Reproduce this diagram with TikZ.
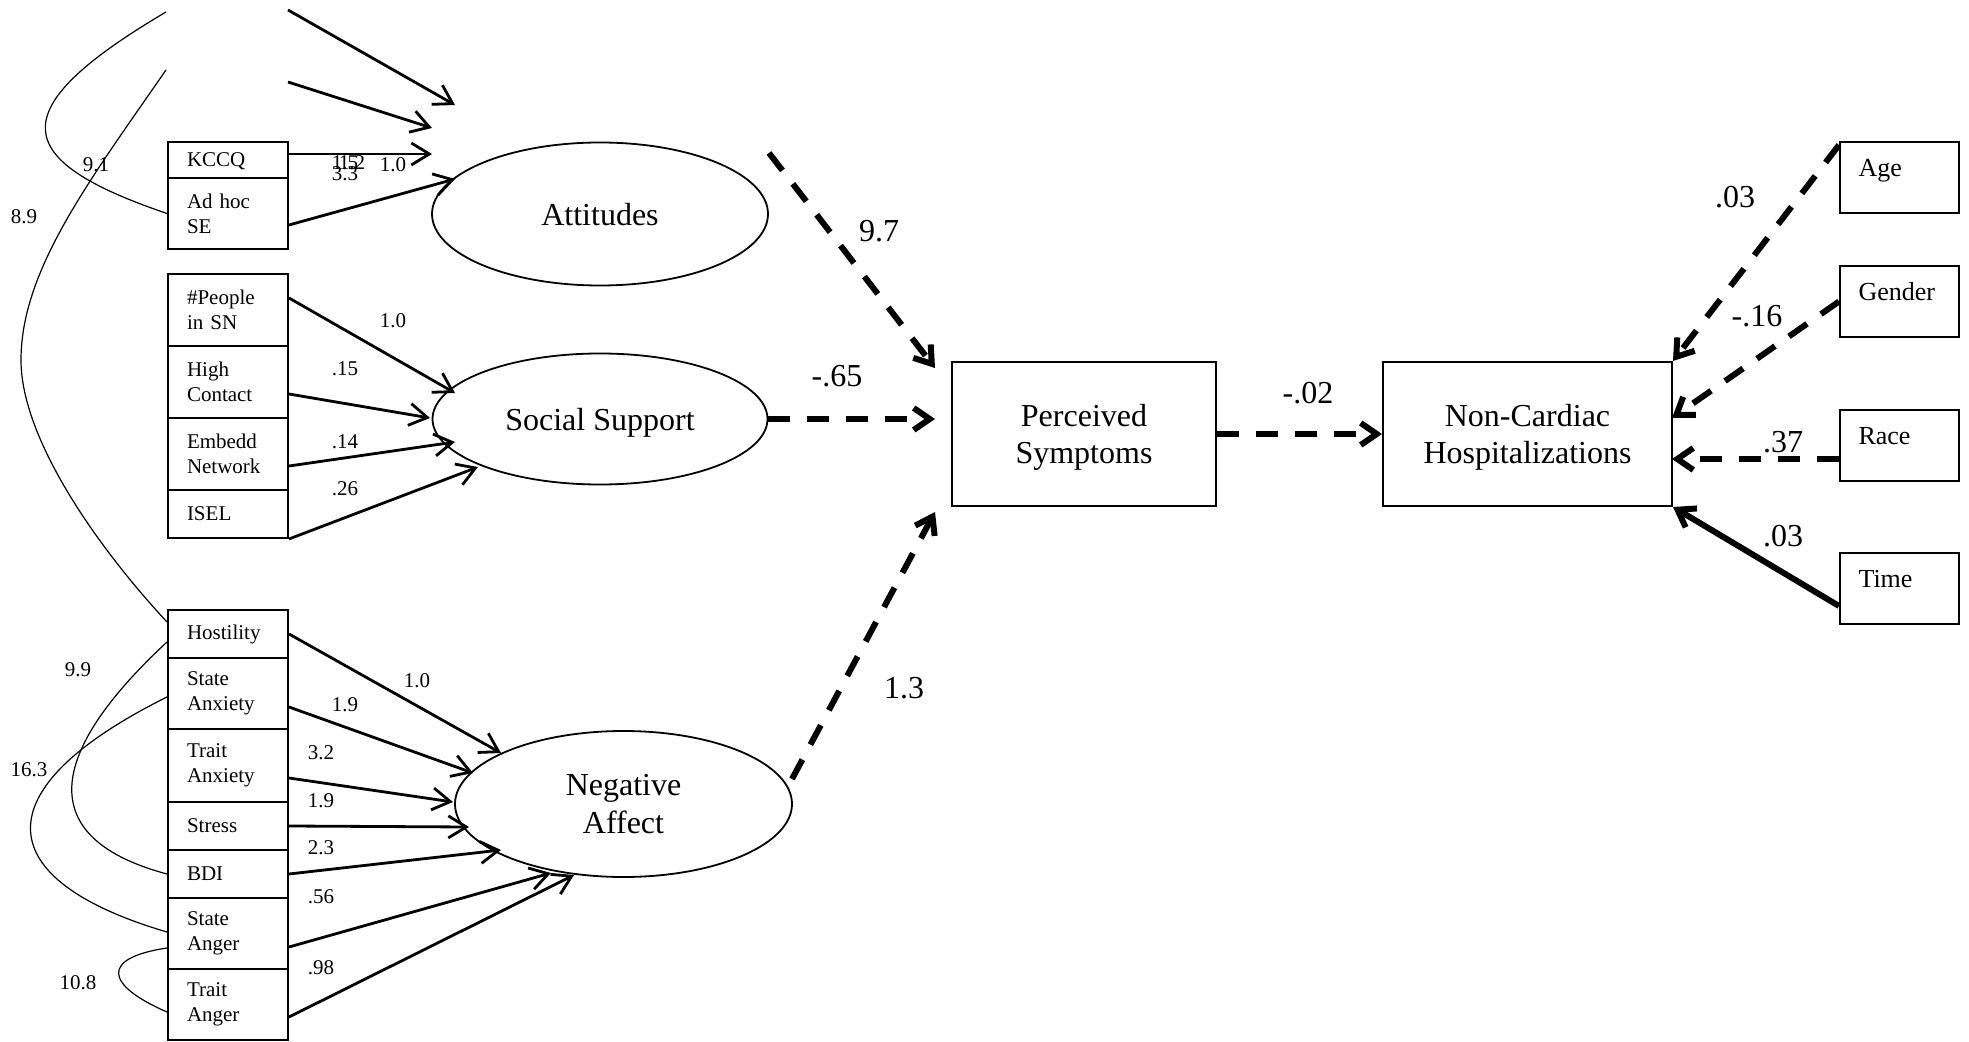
\documentclass[tikz,border=0pt]{standalone}
\usepackage{fontspec}
\setmainfont{Liberation Serif}
\usetikzlibrary{arrows.meta,shapes.geometric}
\begin{document}
\begin{tikzpicture}[x=0.5pt,y=-0.5pt,
  ind/.style={draw, line width=1pt, text width=41pt, inner xsep=9.5pt, inner ysep=0pt,
    align=left, font=\fontsize{10.5}{12.5}\selectfont},
  lat/.style={draw, ellipse, line width=0.9pt, inner sep=0pt, align=center, text depth=0pt,
    font=\fontsize{16}{19}\selectfont},
  obs/.style={draw, line width=1pt, inner sep=0pt, align=center, text depth=0pt,
    font=\fontsize{16}{18.5}\selectfont},
  cov/.style={draw, line width=1pt, inner xsep=9.25pt, inner ysep=0pt, text width=41pt,
    align=left, text height=17.5pt, text depth=18pt, font=\fontsize{13}{15}\selectfont},
  load/.style={line width=1.4pt, -{Straight Barb[length=9pt,width=11pt]}},
  dpath/.style={line width=3pt, dash pattern=on 11pt off 8.5pt,
    -{Straight Barb[length=8pt,width=11pt]}},
  spath/.style={line width=3pt, -{Straight Barb[length=8pt,width=11pt]}},
  corr/.style={line width=0.6pt},
  sm/.style={font=\fontsize{10.5}{12}\selectfont, inner sep=0pt},
  big/.style={font=\fontsize{16}{18}\selectfont, inner sep=0pt},
]
\useasboundingbox (0,0) rectangle (1969,1042);

% ---------- indicator boxes ----------
\node[ind, minimum height=18pt, text depth=0pt] (kccq)  at (228,160)   {KCCQ};
\node[ind, minimum height=35.5pt] (adhoc) at (228,213.5) {Ad hoc\\SE};

\node[ind, minimum height=36pt] (people) at (228,310) {\#People\\in SN};
\node[ind, minimum height=36pt] (high)   at (228,382) {High\\Contact};
\node[ind, minimum height=36pt] (embed)  at (228,454) {Embedd\\Network};
\node[ind, minimum height=24pt] (isel)   at (228,514) {ISEL};

\node[ind, minimum height=24pt]   (host) at (228,634)    {Hostility};
\node[ind, minimum height=35.5pt] (sanx) at (228,693.5)  {State\\Anxiety};
\node[ind, minimum height=36.5pt] (tanx) at (228,765.5)  {Trait\\Anxiety};
\node[ind, minimum height=24pt]   (stress) at (228,826)  {Stress};
\node[ind, minimum height=24pt]   (bdi)  at (228,874)    {BDI};
\node[ind, minimum height=35.5pt] (sang) at (228,933.5)  {State\\Anger};
\node[ind, minimum height=35.5pt] (tang) at (228,1004.5) {Trait\\Anger};

% ---------- latent variables ----------
\node[lat, minimum width=168pt, minimum height=71.5pt] (att) at (600,214) {Attitudes};
\node[lat, minimum width=167.5pt, minimum height=65.5pt] (soc) at (600,419) {Social Support};
\node[lat, minimum width=168.5pt, minimum height=73pt] (neg) at (623.5,804) {Negative\\Affect};

% ---------- observed outcomes ----------
\node[obs, minimum width=132pt, minimum height=72pt] (ps) at (1084,434) {Perceived\\Symptoms};
\node[obs, minimum width=144.5pt, minimum height=72pt] (nc) at (1527.5,434) {Non-Cardiac\\Hospitalizations};

% ---------- covariates ----------
\node[cov] (age)    at (1899.5,177.5) {Age};
\node[cov] (gender) at (1899.5,301.5) {Gender};
\node[cov] (race)   at (1899.5,445.5) {Race};
\node[cov] (time)   at (1899.5,588.5) {Time};

% ---------- free ends ----------
\coordinate (topA) at (288,10);
\coordinate (topB) at (288,82);
\coordinate (topAtip) at (455,105);
\coordinate (topBtip) at (432,128);
\coordinate (kccqtip) at (432,154);
\coordinate (adhoctip) at (455,179);
\coordinate (peopletip) at (455,393);
\coordinate (hightip) at (430,418);
\coordinate (embedtip) at (455,442);
\coordinate (iseltip) at (478,467);
\coordinate (hosttip) at (501,753);
\coordinate (sanxtip) at (473,773);
\coordinate (tanxtip) at (453,802);
\coordinate (stresstip) at (469,827);
\coordinate (bditip) at (501,850);
\coordinate (sangtip) at (551,873);
\coordinate (tangtip) at (574,875);
\coordinate (attout) at (769,153);
\coordinate (attin) at (935,368);
\coordinate (socin) at (935,419);
\coordinate (negout) at (792,779);
\coordinate (negin) at (935,512);
\coordinate (genderin) at (1672,418);
\coordinate (racein) at (1672,459);
\coordinate (c91top) at (166,12);
\coordinate (c89top) at (166,70);
\coordinate (c89mid) at (21,360);

% ---------- loadings ----------
\draw[load] (topA) -- (topAtip);
\draw[load] (topB) -- (topBtip);
\draw[load] ([yshift=3pt]kccq.east) -- (kccqtip);
\draw[load] ([yshift=-5.75pt]adhoc.east) -- (adhoctip);

\draw[load] ([yshift=6pt]people.east) -- (peopletip);
\draw[load] ([yshift=-6pt]high.east) -- (hightip);
\draw[load] ([yshift=-6pt]embed.east) -- (embedtip);
\draw[load] (isel.south east) -- (iseltip);

\draw[load] (host.east) -- (hosttip);
\draw[load] ([yshift=-6.75pt]sanx.east) -- (sanxtip);
\draw[load] ([yshift=-6.25pt]tanx.east) -- (tanxtip);
\draw[load] (stress.east) -- (stresstip);
\draw[load] (bdi.east) -- (bditip);
\draw[load] ([yshift=-6.75pt]sang.east) -- (sangtip);
\draw[load] ([yshift=-6.25pt]tang.east) -- (tangtip);

% ---------- loading values ----------
\node[sm] (l1) at (393,165) {1.0};
\node[sm] (l2) at (345,163) {1.5};
\node[sm] (l3) at (352,163) {1.2};
\node[sm] (l4) at (345,174) {3.3};

\node[sm] (s1) at (393,321) {1.0};
\node[sm] (s2) at (345,369) {.15};
\node[sm] (s3) at (345,442) {.14};
\node[sm] (s4) at (345,489) {.26};

\node[sm] (n1) at (417,681) {1.0};
\node[sm] (n2) at (345,705) {1.9};
\node[sm] (n3) at (321,753) {3.2};
\node[sm] (n4) at (321,801) {1.9};
\node[sm] (n5) at (321,848) {2.3};
\node[sm] (n6) at (321,897) {.56};
\node[sm] (n7) at (321,968) {.98};

% ---------- error covariances ----------
\draw[corr] (c91top) .. controls (0,110) and (10,160) .. (adhoc.west);
\draw[corr] (c89top) .. controls (90,180) and (21,270) .. (c89mid)
            .. controls (21,440) and (100,550) .. ([yshift=6pt]host.west);
\draw[corr] ([yshift=-4pt]host.west) .. controls (40,760) and (40,840) .. (bdi.west);
\draw[corr] ([yshift=-1.75pt]sanx.west) .. controls (-20,790) and (-10,880) .. ([yshift=0.75pt]sang.west);
\draw[corr] ([yshift=-7.25pt]sang.west) .. controls (100,958) and (105,985) .. ([yshift=-3.75pt]tang.west);

\node[sm] (c1) at (96,165) {9.1};
\node[sm] (c2) at (24,217) {8.9};
\node[sm] (c3) at (78,670) {9.9};
\node[sm] (c4) at (29,770) {16.3};
\node[sm] (c5) at (78,983) {10.8};

% ---------- structural paths ----------
\draw[dpath] (attout) -- (attin);
\draw[dpath] (soc.east) -- (socin);
\draw[dpath] (negout) -- (negin);
\draw[dpath] (ps.east) -- (nc.west);

\draw[dpath] ([yshift=-2pt]age.north west) -- (nc.north east);
\draw[dpath] (gender.west) -- (genderin);
\draw[dpath] ([yshift=-6.75pt]race.west) -- (racein);
\draw[spath] ([yshift=-8.75pt]time.west) -- (nc.south east);

\node[big] (p1) at (879,231) {9.7};
\node[big] (p2) at (837,376) {-.65};
\node[big] (p3) at (904,688) {1.3};
\node[big] (p4) at (1308,393) {-.02};
\node[big] (p5) at (1735,197) {.03};
\node[big] (p6) at (1757,316) {-.16};
\node[big] (p7) at (1783,442) {.37};
\node[big] (p8) at (1783,536) {.03};
\end{tikzpicture}
\end{document}
